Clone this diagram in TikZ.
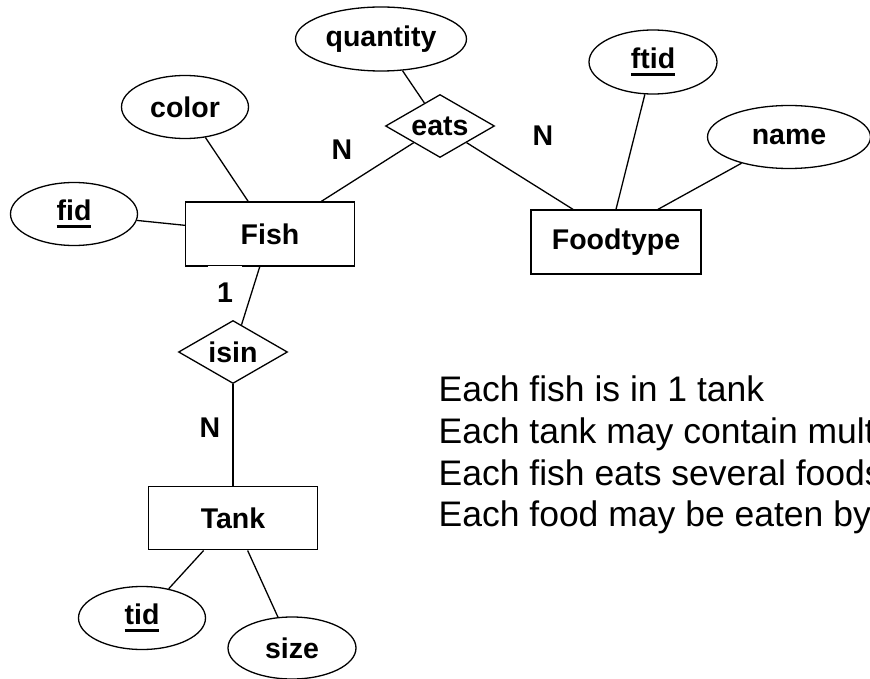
\documentclass[tikz,border=0pt]{standalone}
\usepackage{fontspec}
\setmainfont{Liberation Sans}
\usetikzlibrary{shapes,positioning}
\newcommand{\keyattr}[1]{\setbox0\hbox{#1}\rlap{\rule[-8pt]{\wd0}{3pt}}\box0}

\begin{document}
\begin{tikzpicture}[x=1pt, y=-1pt, line width=1.3pt,
    lbl/.style={font=\fontsize{28.5}{34}\selectfont\bfseries},
    entity/.style={lbl, draw, rectangle, inner sep=0pt, minimum width=169pt, minimum height=64pt},
    attrib/.style={lbl, draw, ellipse, inner sep=0pt, minimum width=127pt, minimum height=63pt},
    relship/.style={lbl, draw, diamond, aspect=1.73, inner sep=0pt, minimum width=109pt, minimum height=63pt},
    card/.style={lbl, inner sep=0pt},
    note/.style={font=\fontsize{35.5}{41.7}\selectfont, align=left, inner sep=0pt}]
        \useasboundingbox (0,0) rectangle (870,679);
        \clip (0,0) rectangle (870,679);

        % Fish and its attributes
        \node[entity] (fish) at (270,234) {Fish};
        \node[attrib] (color) at (185,107) {color};
        \node[attrib] (fid) at (74,214) {\keyattr{fid}};
        \node[card, fill=white, text height=36pt, text depth=0pt, inner xsep=9.5pt, anchor=base] (one) at (225,302) {1};

        % eats relationship
        \node[relship] (eats) at (440,126) {eats};
        \node[attrib, minimum width=171pt, minimum height=64pt] (quantity) at (381,39) {quantity};

        % Foodtype and its attributes
        \node[entity, minimum width=170pt] (food) at (616,242) {Foodtype};
        \node[attrib, minimum width=128pt, minimum height=64pt] (ftid) at (653,62) {\keyattr{ftid}};
        \node[attrib, minimum width=163pt] (name) at (789,137) {name};

        % isin relationship and Tank
        \node[relship] (isin) at (233,352) {isin};
        \node[entity, minimum height=63pt, below=102pt of isin] (tank) {Tank};
        \node[attrib] (tid) at (142,618) {\keyattr{tid}};
        \node[attrib, minimum width=128pt, minimum height=62pt] (size) at (292,648) {size};

        % Cardinalities
        \node[card] (n1) at (342,150) {N};
        \node[card] (n2) at (543,136) {N};
        \node[card] (n3) at (210,428) {N};

        % Lines
        \draw (color) -- (fish);
        \draw (fid) -- (fish);
        \draw (fish) -- (eats);
        \draw (quantity) -- (eats);
        \draw (eats) -- ([xshift=-43pt]food.north);
        \draw (ftid) -- (food.north);
        \draw (name) -- ([xshift=42pt]food.north);
        \draw (fish) -- (isin);
        \draw (isin) -- (tank);
        \draw (tank) -- (tid);
        \draw (tank) -- (size);

        % Notes
        \node[note, anchor=north west] (notes) at (438,375.5) {Each fish is in 1 tank\\
            Each tank may contain mult\\
            Each fish eats several foods\\
            Each food may be eaten by};
    \end{tikzpicture}
\end{document}
